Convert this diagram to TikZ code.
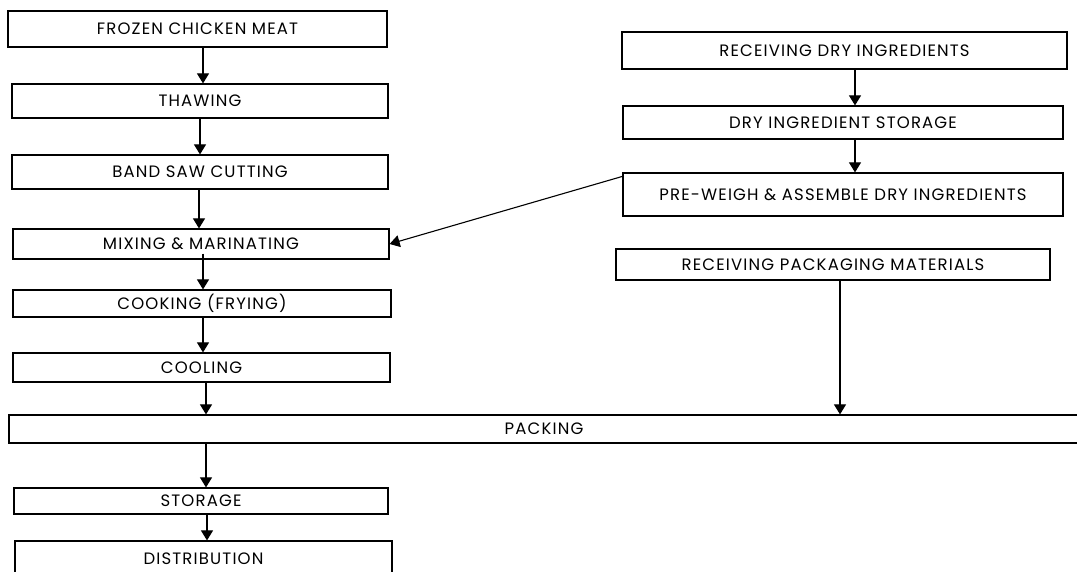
\documentclass[tikz,border=0pt]{standalone}
\usepackage{fontspec}
\setmainfont{Poppins}[LetterSpace=7]
\usetikzlibrary{arrows.meta}
\begin{document}
\begin{tikzpicture}[x=1pt,y=-1pt,
  box/.style={draw, line width=1.2pt, rectangle, inner sep=0pt, align=center,
    font=\fontsize{16.5}{19}\selectfont},
  arr/.style={line width=1.1pt, -{Triangle[length=10pt,width=12pt]}}]
\useasboundingbox (0,0) rectangle (1077,572);
\clip (0,0) rectangle (1077,572);
% left column
\node[box, minimum width=379pt, minimum height=36pt] (frozen) at (197.5,29) {FROZEN CHICKEN MEAT};
\node[box, minimum width=376pt, minimum height=34pt] (thaw) at (200,101) {THAWING};
\node[box, minimum width=376pt, minimum height=34pt] (band) at (200,172) {BAND SAW CUTTING};
\node[box, minimum width=376pt, minimum height=30pt] (mix) at (201,244) {MIXING \& MARINATING};
\node[box, minimum width=378pt, minimum height=27pt] (cook) at (202,303.5) {COOKING (FRYING)};
\node[box, minimum width=377pt, minimum height=29pt] (cool) at (201.5,367.5) {COOLING};
\node[box, minimum width=1070pt, minimum height=28pt] (pack) at (544,429) {PACKING};
\node[box, minimum width=374pt, minimum height=26pt] (stor) at (201,501) {STORAGE};
\node[box, minimum width=377pt, minimum height=35pt] (dist) at (203.5,558.5) {DISTRIBUTION};
% right column
\node[box, minimum width=445pt, minimum height=37pt] (recdry) at (844.5,50.5) {RECEIVING DRY INGREDIENTS};
\node[box, minimum width=440pt, minimum height=33pt] (drystor) at (843,122.5) {DRY INGREDIENT STORAGE};
\node[box, minimum width=440pt, minimum height=43pt] (prew) at (843,194.5) {PRE-WEIGH \& ASSEMBLE DRY INGREDIENTS};
\node[box, minimum width=434pt, minimum height=31pt] (recpack) at (833,264.5) {RECEIVING PACKAGING MATERIALS};
% connectors
\draw[arr] ([xshift=5.5pt]frozen.south) -- ([xshift=3pt]thaw.north);
\draw[arr] (thaw.south) -- (band.north);
\draw[arr] ([xshift=-1pt]band.south) -- ([xshift=-2pt]mix.north);
\draw[arr] ([xshift=2pt,yshift=6pt]mix.south) -- ([xshift=1pt]cook.north);
\draw[arr] ([xshift=1pt]cook.south) -- ([xshift=1.5pt]cool.north);
\draw[arr] ([xshift=4.5pt]cool.south) -- ([xshift=-338pt]pack.north);
\draw[arr] ([xshift=-338pt]pack.south) -- ([xshift=5pt]stor.north);
\draw[arr] ([xshift=6pt]stor.south) -- ([xshift=3.5pt]dist.north);
\draw[arr] ([xshift=10.5pt]recdry.south) -- ([xshift=12pt]drystor.north);
\draw[arr] ([xshift=12pt]drystor.south) -- ([xshift=12pt]prew.north);
\draw[arr] ([xshift=7pt]recpack.south) -- ([xshift=296pt]pack.north);
\draw[arr] ([yshift=-4pt]prew.north west) -- (mix.east);
\end{tikzpicture}
\end{document}
